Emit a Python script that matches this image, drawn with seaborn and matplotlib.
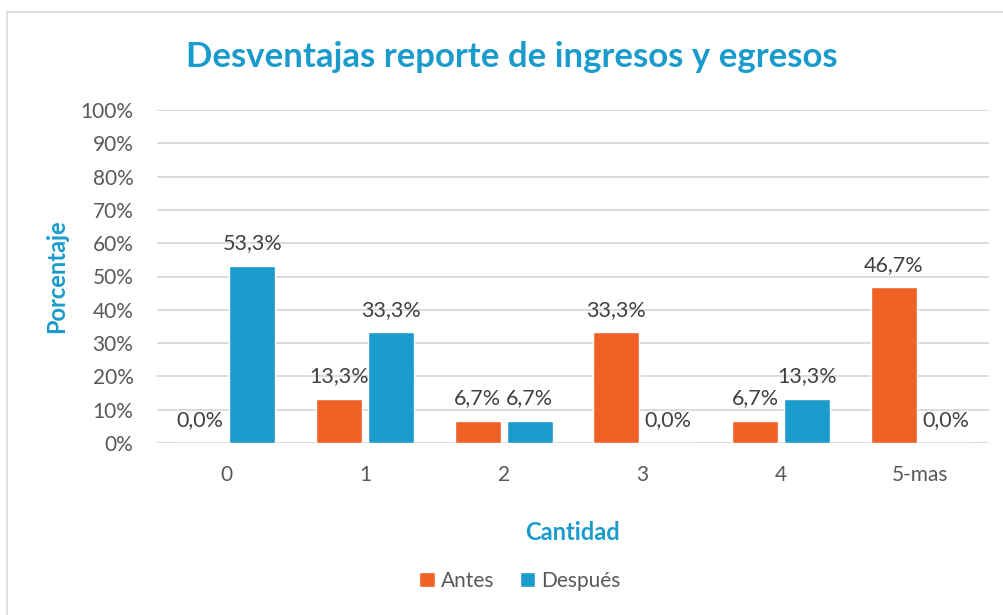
import matplotlib
matplotlib.use("Agg")
import matplotlib.pyplot as plt
import seaborn as sns
import pandas as pd
from matplotlib.patches import Rectangle
from matplotlib.ticker import FuncFormatter

categories = ["0", "1", "2", "3", "4", "5-mas"]
antes = [0.0, 13.3, 6.7, 33.3, 6.7, 46.7]
despues = [53.3, 33.3, 6.7, 0.0, 13.3, 0.0]
series = ["Antes", "Después"]
y_ticks = list(range(0, 101, 10))

ORANGE = "#F06125"
BLUE = "#1A9BCB"
GRAY_TEXT = "#595959"
GRID = "#D9D9D9"

sns.set_theme(style="white")
plt.rcParams["font.family"] = ["Lato", "DejaVu Sans"]

df = pd.DataFrame({
    "Cantidad": categories * 2,
    "Valor": antes + despues,
    "Serie": [series[0]] * len(categories) + [series[1]] * len(categories),
})

fig = plt.figure(figsize=(10.04, 6.15), dpi=100)
ax = fig.add_axes([157 / 1004, 1 - 443 / 615, (989 - 157) / 1004, (443 - 110) / 615])

sns.barplot(data=df, x="Cantidad", y="Valor", hue="Serie", order=categories,
            hue_order=series, palette=[ORANGE, BLUE], width=0.75, gap=0.12,
            ax=ax, legend=True, saturation=1)

ax.set_ylim(0, 100)
ax.set_yticks(y_ticks)
ax.yaxis.set_major_formatter(FuncFormatter(lambda v, p: f"{int(v)}%"))
ax.set_xlim(-0.5, len(categories) - 0.5)
ax.grid(axis="y", color=GRID, linewidth=1.3)
ax.set_axisbelow(True)
for s in ax.spines.values():
    s.set_visible(False)
ax.tick_params(axis="both", length=0, labelsize=15, colors=GRAY_TEXT)
ax.tick_params(axis="y", pad=17)
ax.tick_params(axis="x", pad=16)

for cont in ax.containers:
    labels = [f"{v:.1f}".replace(".", ",") + "%" for v in cont.datavalues]
    ax.bar_label(cont, labels=labels, padding=9, fontsize=15.5, color="#404040")

ax.set_xlabel("Cantidad", fontsize=17, fontweight="bold", color=BLUE, labelpad=26)
ax.set_ylabel("Porcentaje", fontsize=17, fontweight="bold", color=BLUE, labelpad=9)

fig.text(512 / 1004, 1 - 57 / 615, "Desventajas reporte de ingresos y egresos",
         ha="center", va="center", fontsize=25, fontweight="bold", color=BLUE)

handles, lbls = ax.get_legend_handles_labels()
ax.legend_.remove()
fig.legend(handles, lbls, loc="center", bbox_to_anchor=(520 / 1004, 1 - 581 / 615),
           ncol=2, frameon=False, fontsize=15, handlelength=0.75, handleheight=0.75,
           handletextpad=0.3, columnspacing=1.2, labelcolor=GRAY_TEXT)

fig.patches.append(Rectangle((7 / 1004, -0.1), 1.2, 1 - 12 / 615 + 0.1,
                             transform=fig.transFigure, fill=False,
                             edgecolor="#D9D9D9", linewidth=1.2))

fig.savefig("out.png", dpi=100)
